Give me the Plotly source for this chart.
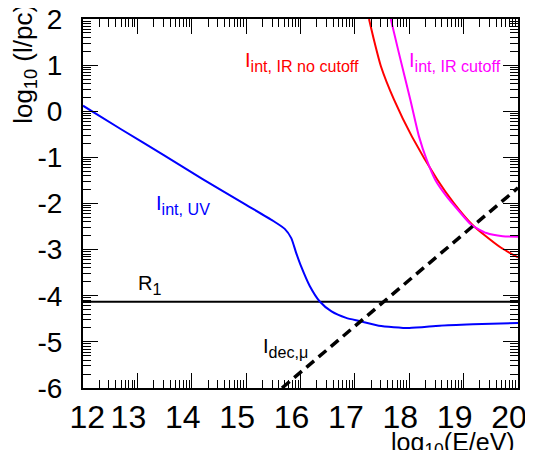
import plotly.graph_objects as go
import math

# ---- data ----
uv_x = [12.0, 12.7, 13.5, 14.2, 15.0, 15.5, 15.71, 15.83, 15.92, 16.01, 16.17, 16.35, 16.57, 16.84, 17.09, 17.44, 18.0, 18.56, 19.17, 20.0]
uv_y = [0.12, -0.39, -0.96, -1.47, -2.03, -2.38, -2.55, -2.75, -3.07, -3.36, -3.79, -4.12, -4.34, -4.48, -4.55, -4.65, -4.70, -4.65, -4.62, -4.59]

ir_nocut_x = [17.26, 17.35, 17.48, 17.72, 18.05, 18.52, 18.82, 19.16, 19.41, 19.69, 20.0]
ir_nocut_y = [2.0, 1.55, 0.97, 0.25, -0.55, -1.49, -1.99, -2.46, -2.71, -2.96, -3.17]

ir_cut_x = [17.66, 17.81, 18.02, 18.18, 18.32, 18.48, 18.69, 18.89, 19.14, 19.42, 19.72, 20.0]
ir_cut_y = [2.0, 1.26, 0.25, -0.55, -1.05, -1.49, -1.85, -2.13, -2.46, -2.64, -2.71, -2.72]

dec_x = [15.66, 20.0]
dec_y = [-6.0, -1.66]

r1_x = [12.0, 20.0]
r1_y = [-4.13, -4.13]

x_ticks = [12, 13, 14, 15, 16, 17, 18, 19, 20]
x_tick_labels = ["\u00a0\u00a0\u00a012", "13", "14", "15", "16", "17", "18", "19", "20"]
y_ticks = [-6, -5, -4, -3, -2, -1, 0, 1, 2]
y_tick_labels = ["-6", "-5", "-4", "-3", "-2", "-1", "0", "1", "2"]

x_minor = [n + math.log10(k) for n in range(12, 20) for k in range(2, 10)]
y_minor = [n + math.log10(k) for n in range(-6, 2) for k in range(2, 10)]

FONT = "Arial, Liberation Sans, Helvetica, sans-serif"

fig = go.Figure()
fig.add_trace(go.Scatter(x=r1_x, y=r1_y, mode="lines", line=dict(color="black", width=2)))
fig.add_trace(go.Scatter(x=uv_x, y=uv_y, mode="lines", line=dict(color="#0000ff", width=2, shape="spline", smoothing=0.6)))
fig.add_trace(go.Scatter(x=ir_nocut_x, y=ir_nocut_y, mode="lines", line=dict(color="#ff0000", width=2, shape="spline", smoothing=0.6)))
fig.add_trace(go.Scatter(x=ir_cut_x, y=ir_cut_y, mode="lines", line=dict(color="#ff00ff", width=2, shape="spline", smoothing=0.6)))
fig.add_trace(go.Scatter(x=dec_x, y=dec_y, mode="lines", line=dict(color="black", width=3.5, dash="10px,6px")))

axis_common = dict(
    ticks="inside", ticklen=15, tickwidth=1, tickcolor="black",
    showline=True, linewidth=2, linecolor="black", mirror="ticks",
    showgrid=False, zeroline=False, automargin=False, ticklabeloverflow="allow",
)

fig.update_xaxes(range=[12, 20], tickmode="array", tickvals=x_ticks, ticktext=x_tick_labels,
                 ticklabelshift=-9, ticklabelstandoff=0,
                 tickfont=dict(family=FONT, size=32, color="black"),
                 minor=dict(tickmode="array", tickvals=x_minor, ticks="inside", ticklen=8,
                            tickwidth=1, tickcolor="black", showgrid=False),
                 **axis_common)
fig.update_yaxes(range=[-6, 2], tickmode="array", tickvals=y_ticks, ticktext=y_tick_labels,
                 ticklabelstandoff=13,
                 tickfont=dict(family=FONT, size=28, color="black"),
                 minor=dict(tickmode="array", tickvals=y_minor, ticks="inside", ticklen=8,
                            tickwidth=1, tickcolor="black", showgrid=False),
                 **axis_common)

def sub_label(main, sub):
    return f"<span style='font-size:20px'>{main}</span><sub>{sub}</sub>"

labels = [
    ("I", "int, IR no cutoff", 14.95, 1.07, "#ff0000"),
    ("I", "int, IR cutoff", 17.95, 1.07, "#ff00ff"),
    ("I", "int, UV", 13.30, -2.03, "#0000ff"),
    ("R", "1", 12.98, -3.76, "black"),
    ("I", "dec,\u03bc", 15.27, -5.14, "black"),
]
for main, sub, lx, ly, col in labels:
    fig.add_annotation(text=sub_label(main, sub), x=lx, y=ly, xref="x", yref="y",
                       xanchor="left", yanchor="middle",
                       showarrow=False, font=dict(family=FONT, size=23, color=col))

fig.add_annotation(text="log<sub>10</sub>(E/eV)", x=0.998, y=-0.152, xref="paper", yref="paper",
                   xanchor="right", yanchor="middle", showarrow=False,
                   font=dict(family=FONT, size=25, color="black"))
fig.add_annotation(text="log<sub>10</sub> (l/pc)", x=-0.136, y=0.878, xref="paper", yref="paper",
                   xanchor="center", yanchor="middle", textangle=-90, showarrow=False,
                   font=dict(family=FONT, size=26, color="black"))

# page body adds an 8px offset; margins compensate so the plot frame lands at x 83-518, y 19-388
fig.update_layout(width=533, height=450, margin=dict(l=75, r=23, t=11, b=70),
                  plot_bgcolor="white", paper_bgcolor="white", showlegend=False)

fig.write_html("out.html")
